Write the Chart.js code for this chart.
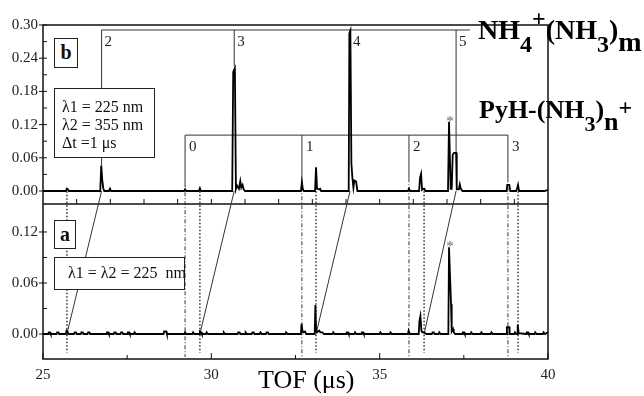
<!DOCTYPE html>
<html lang="en">
<head>
<meta charset="UTF-8">
<title>TOF spectra</title>
<script src="https://cdn.jsdelivr.net/npm/chart.js"></script>
<style>
  body { margin: 0; background: #fff; }
  #wrap { position: relative; width: 644px; height: 396px; font-family: "Liberation Serif", "DejaVu Serif", serif; color: #111; }
  #chart { position: absolute; left: 0; top: 0; }
  .box { position: absolute; box-sizing: border-box; border: 1.5px solid #222; background: #fff; }
  .tag { font-weight: bold; font-size: 20px; line-height: 26px; text-align: center; }
  .note { font-size: 16px; line-height: 18px; white-space: nowrap; }
  .chem { position: absolute; font-weight: bold; white-space: nowrap; line-height: 1; color: #000; }
  .chem span { position: relative; line-height: 0; }
  .xtitle { position: absolute; left: 258px; top: 367px; font-size: 26px; line-height: 1; color: #000; white-space: nowrap; }
</style>
</head>
<body>
<div id="wrap">
  <canvas id="chart" width="644" height="396"></canvas>

  <div class="box tag" style="left:54px; top:38px; width:24px; height:30px;">b</div>
  <div class="box note" style="left:54px; top:88px; width:101px; height:70px; padding:9px 0 0 7px;">
    λ1 = 225 nm<br>λ2 = 355 nm<br>Δt =1 μs
  </div>
  <div class="box tag" style="left:54px; top:220px; width:22px; height:29px;">a</div>
  <div class="box note" style="left:54px; top:257px; width:131px; height:33px; padding:6px 0 0 13px;">
    λ1 = λ2 = 225&nbsp; nm
  </div>

  <div class="chem" style="left:478px; top:16px; font-size:28px;">NH<span style="font-size:24px; top:13px;">4</span><span style="font-size:24px; top:-13px;">+</span>(NH<span style="font-size:24px; top:13px;">3</span>)<span style="top:12px;">m</span></div>
  <div class="chem" style="left:479px; top:97px; font-size:26px;">PyH-(NH<span style="font-size:22px; top:13px;">3</span>)<span style="top:12px;">n</span><span style="font-size:24px; top:-3px;">+</span></div>

  <div class="xtitle">TOF (μs)</div>
</div>

<script>
// Trace b: lambda1 = 225 nm, lambda2 = 355 nm, dt = 1 us  [TOF (us), signal]
const traceB = [
  [25.00, 0],
  [25.68, 0], [25.71, 0.004], [25.74, 0.003], [25.77, 0],
  [26.70, 0], [26.73, 0.046], [26.76, 0.02], [26.79, 0.005], [26.82, 0],
  [26.96, 0], [26.99, 0.004], [27.02, 0],
  [29.19, 0], [29.22, 0.003], [29.25, 0],
  [29.63, 0], [29.66, 0.005], [29.69, 0],
  [30.62, 0], [30.65, 0.215], [30.70, 0.222], [30.73, 0.004], [30.76, 0.01],
  [30.82, 0.004], [30.86, 0.018], [30.89, 0.006], [30.93, 0.011], [30.96, 0.003], [31.00, 0],
  [32.66, 0], [32.69, 0.016], [32.72, 0.003], [32.75, 0],
  [33.08, 0], [33.11, 0.043], [33.14, 0.004], [33.20, 0.003], [33.23, 0.004], [33.26, 0],
  [34.08, 0], [34.10, 0.285], [34.13, 0.29], [34.16, 0.05], [34.19, 0.024],
  [34.22, 0.006], [34.25, 0.019], [34.30, 0.017], [34.34, 0],
  [35.84, 0], [35.87, 0.004], [35.90, 0],
  [36.17, 0], [36.20, 0.024], [36.23, 0.031], [36.26, 0.002], [36.30, 0.004], [36.33, 0.004], [36.36, 0],
  [37.03, 0], [37.06, 0.125], [37.11, 0.004], [37.14, 0.004],
  [37.17, 0.066], [37.21, 0.069], [37.27, 0.069], [37.29, 0.003],
  [37.35, 0.003], [37.38, 0.012], [37.41, 0.004], [37.46, 0],
  [38.77, 0], [38.79, 0.011], [38.85, 0.011], [38.88, 0],
  [39.05, 0], [39.08, 0.004], [39.11, 0.011], [39.14, 0],
  [39.90, 0], [40.00, 0.002]
];

// Trace a: lambda1 = lambda2 = 225 nm
const traceA = [
  [25.00, 0],
  [25.15, 0], [25.17, 0.002], [25.21, 0.002], [25.23, 0],
  [25.40, 0], [25.42, 0.002], [25.46, 0.002], [25.48, 0],
  [25.68, 0], [25.70, 0.004], [25.73, 0.003], [25.75, 0],
  [25.92, 0], [25.94, 0.002], [25.98, 0.002], [26.00, 0],
  [26.12, 0], [26.14, 0.002], [26.18, 0.002], [26.20, 0],
  [26.32, 0], [26.34, 0.002], [26.38, 0.002], [26.40, 0],
  [26.88, 0], [26.90, 0.002], [26.94, 0.002], [26.96, 0],
  [27.10, 0], [27.12, 0.002], [27.16, 0.002], [27.18, 0],
  [27.30, 0], [27.32, 0.002], [27.36, 0.002], [27.38, 0],
  [27.50, 0], [27.52, 0.002], [27.56, 0.002], [27.58, 0],
  [27.70, 0], [27.72, 0.002], [27.76, 0],
  [28.58, 0], [28.60, 0.003], [28.66, 0.003], [28.68, 0],
  [29.20, 0], [29.22, 0.002], [29.25, 0],
  [29.44, 0], [29.46, 0.002], [29.50, 0],
  [29.64, 0], [29.66, 0.003], [29.70, 0.002], [29.72, 0],
  [29.84, 0], [29.86, 0.002], [29.90, 0],
  [30.35, 0], [30.37, 0.002], [30.41, 0],
  [30.78, 0], [30.80, 0.002], [30.84, 0.002], [30.86, 0],
  [31.00, 0], [31.02, 0.002], [31.06, 0],
  [31.20, 0], [31.22, 0.002], [31.26, 0.002], [31.28, 0],
  [31.44, 0], [31.46, 0.002], [31.50, 0],
  [31.62, 0], [31.64, 0.002], [31.68, 0.002], [31.70, 0],
  [32.20, 0], [32.22, 0.002], [32.26, 0],
  [32.66, 0], [32.68, 0.012], [32.71, 0.003], [32.74, 0.002], [32.78, 0.003], [32.82, 0],
  [33.07, 0], [33.09, 0.034], [33.11, 0.005], [33.14, 0.002], [33.20, 0.004], [33.24, 0.002], [33.30, 0.002], [33.34, 0],
  [33.60, 0], [33.62, 0.002], [33.66, 0],
  [34.00, 0], [34.02, 0.002], [34.06, 0.002], [34.08, 0],
  [34.25, 0], [34.27, 0.002], [34.31, 0],
  [34.45, 0], [34.47, 0.002], [34.51, 0.002], [34.53, 0],
  [35.00, 0], [35.02, 0.002], [35.06, 0],
  [35.30, 0], [35.32, 0.002], [35.36, 0],
  [35.84, 0], [35.86, 0.004], [35.90, 0],
  [36.16, 0], [36.18, 0.015], [36.21, 0.021], [36.24, 0.004], [36.27, 0.002], [36.32, 0.002], [36.38, 0],
  [36.55, 0], [36.57, 0.002], [36.61, 0.002], [36.63, 0],
  [36.75, 0], [36.77, 0.002], [36.81, 0],
  [37.04, 0], [37.06, 0.102], [37.12, 0.035], [37.14, 0.003], [37.18, 0.006], [37.20, 0.002], [37.24, 0],
  [37.45, 0], [37.47, 0.002], [37.51, 0.002], [37.53, 0],
  [37.70, 0], [37.72, 0.002], [37.76, 0],
  [38.00, 0], [38.02, 0.002], [38.06, 0],
  [38.30, 0], [38.32, 0.002], [38.36, 0],
  [38.77, 0], [38.78, 0.008], [38.85, 0.008], [38.86, 0],
  [39.00, 0], [39.02, 0.002], [39.06, 0],
  [39.09, 0], [39.10, 0.011], [39.13, 0.001],
  [39.35, 0], [39.37, 0.002], [39.41, 0.002], [39.43, 0],
  [39.60, 0], [39.62, 0.002], [39.66, 0],
  [39.85, 0], [39.87, 0.002], [39.91, 0],
  [40.00, 0.002]
];

// axis ticks
const xMajor = [25, 30, 35, 40];
const xMinor = [27.5, 32.5, 37.5];
const xInner = [26, 27, 28, 29, 30, 31, 32, 33, 34, 35, 36, 37, 38, 39];
const yMajorB = [0, 0.06, 0.12, 0.18, 0.24, 0.30];
const yMinorB = [0.03, 0.09, 0.15, 0.21, 0.27];
const yMajorA = [0, 0.06, 0.12];
const yMinorA = [0.03, 0.09];

// NH4+(NH3)m progression: m labels, TOF in panel b, peak tops, TOF in panel a
const nh4Labels = ['2', '3', '4', '5'];
const nh4TofB = [26.74, 30.68, 34.12, 37.27];
const nh4PeakB = [0.046, 0.225, 0.29, 0.069];
const nh4TofA = [25.71, 29.66, 33.11, 36.32, 39.11];

// PyH-(NH3)n+ progression
const pyLabels = ['0', '1', '2', '3'];
const pyTof = [29.22, 32.69, 35.87, 38.81];
const pyStop = [0.014, 0.023, 0.023, 0.023];

// starred peak (TOF, height in b, height in a)
const starTof = 37.06;
const starB = 0.125;
const starA = 0.102;

const serif = '"Liberation Serif", "DejaVu Serif", serif';

const annotate = {
  id: 'annotate',
  beforeDatasetsDraw(chart) {
    const { ctx, chartArea: a, scales } = chart;
    const x = scales.x, yB = scales.yB, yA = scales.yA;
    const px = v => x.getPixelForValue(v);
    ctx.save();
    ctx.strokeStyle = '#111';

    // frame + panel divider
    ctx.lineWidth = 1.5;
    ctx.strokeRect(a.left, a.top, a.right - a.left, a.bottom - a.top);
    ctx.beginPath();
    ctx.moveTo(a.left, yB.bottom);
    ctx.lineTo(a.right, yB.bottom);
    ctx.stroke();

    // tick marks
    ctx.lineWidth = 1;
    const hTick = (scale, vals, out, inn) => vals.forEach(v => {
      const py = scale.getPixelForValue(v);
      ctx.beginPath();
      ctx.moveTo(a.left - out, py);
      ctx.lineTo(a.left + inn, py);
      ctx.stroke();
    });
    hTick(yB, yMajorB, 4, 4);
    hTick(yB, yMinorB, 0, 4);
    hTick(yA, yMajorA, 4, 4);
    hTick(yA, yMinorA, 0, 4);
    const vTick = (vals, y0, len) => vals.forEach(v => {
      ctx.beginPath();
      ctx.moveTo(px(v), y0);
      ctx.lineTo(px(v), y0 - len);
      ctx.stroke();
    });
    vTick(xMajor, a.bottom, 6);
    vTick(xMinor, a.bottom, 4);
    vTick(xInner, yB.bottom, 5);

    // NH4+ bracket
    ctx.strokeStyle = '#333';
    const topY = yB.getPixelForValue(0.291);
    ctx.beginPath();
    ctx.moveTo(px(nh4TofB[0]), topY);
    ctx.lineTo(px(37.68), topY);
    nh4TofB.forEach((t, i) => {
      ctx.moveTo(px(t), topY);
      ctx.lineTo(px(t), yB.getPixelForValue(nh4PeakB[i]));
    });
    // links from panel b to panel a
    nh4TofB.forEach((t, i) => {
      ctx.moveTo(px(t), yB.getPixelForValue(0));
      ctx.lineTo(px(nh4TofA[i]), yA.getPixelForValue(0));
    });
    ctx.stroke();

    // PyH bracket
    const pyY = yB.getPixelForValue(0.101);
    ctx.beginPath();
    ctx.moveTo(px(pyTof[0]), pyY);
    ctx.lineTo(px(pyTof[pyTof.length - 1]), pyY);
    pyTof.forEach((t, i) => {
      ctx.moveTo(px(t), pyY);
      ctx.lineTo(px(t), yB.getPixelForValue(pyStop[i]));
    });
    ctx.stroke();

    // dash-dot guides for PyH
    ctx.setLineDash([4, 2, 1, 2]);
    ctx.beginPath();
    pyTof.forEach((t, i) => {
      ctx.moveTo(px(t), yB.getPixelForValue(pyStop[i]));
      ctx.lineTo(px(t), yA.getPixelForValue(-0.027));
    });
    ctx.stroke();

    // dotted guides for NH4+ in panel a
    ctx.setLineDash([1.5, 2]);
    ctx.lineWidth = 1.5;
    ctx.beginPath();
    nh4TofA.forEach(t => {
      ctx.moveTo(px(t), yB.getPixelForValue(0.006));
      ctx.lineTo(px(t), yA.getPixelForValue(-0.022));
    });
    ctx.stroke();
    ctx.setLineDash([]);

    // labels
    ctx.fillStyle = '#222';
    ctx.font = '15px ' + serif;
    ctx.textBaseline = 'middle';
    ctx.textAlign = 'left';
    nh4Labels.forEach((s, i) => ctx.fillText(s, px(nh4TofB[i]) + 3, topY + 12));
    pyLabels.forEach((s, i) => ctx.fillText(s, px(pyTof[i]) + 4, pyY + 12));

    ctx.fillStyle = '#666';
    ctx.font = '15px ' + serif;
    ctx.textAlign = 'center';
    ctx.textBaseline = 'alphabetic';
    ctx.fillText('*', px(starTof) + 1, yB.getPixelForValue(starB) + 4);
    ctx.fillText('*', px(starTof) + 1, yA.getPixelForValue(starA) + 4);
    ctx.restore();
  }
};

const tickFont = { family: serif, size: 15 };

new Chart(document.getElementById('chart'), {
  type: 'line',
  data: {
    datasets: [
      {
        label: 'b',
        data: traceB.map(p => ({ x: p[0], y: p[1] })),
        yAxisID: 'yB',
        borderColor: '#000',
        borderWidth: 1.8,
        pointRadius: 0,
        tension: 0
      },
      {
        label: 'a',
        data: traceA.map(p => ({ x: p[0], y: p[1] })),
        yAxisID: 'yA',
        borderColor: '#000',
        borderWidth: 1.8,
        pointRadius: 0,
        tension: 0
      }
    ]
  },
  options: {
    responsive: false,
    animation: false,
    layout: { padding: { top: 25, right: 96, left: 0, bottom: 0 } },
    plugins: { legend: { display: false }, tooltip: { enabled: false } },
    scales: {
      x: {
        type: 'linear',
        min: 25,
        max: 40,
        afterBuildTicks: s => { s.ticks = xMajor.map(v => ({ value: v })); },
        afterFit: s => { s.height = 37; },
        grid: { display: false, drawTicks: false },
        border: { display: false },
        ticks: { color: '#222', font: tickFont, padding: 7, maxRotation: 0, autoSkip: false, callback: v => String(v) }
      },
      // stacked panels: the axis listed first is placed at the bottom
      yA: {
        type: 'linear',
        position: 'left',
        stack: 'panels',
        stackWeight: 155,
        min: -0.0294,
        max: 0.1529,
        afterBuildTicks: s => { s.ticks = yMajorA.map(v => ({ value: v })); },
        afterFit: s => { s.width = 43; },
        grid: { display: false, drawTicks: false },
        border: { display: false },
        ticks: { color: '#222', font: tickFont, padding: 5, autoSkip: false, callback: v => v.toFixed(2) }
      },
      yB: {
        type: 'linear',
        position: 'left',
        stack: 'panels',
        stackWeight: 179,
        min: -0.0235,
        max: 0.30,
        afterBuildTicks: s => { s.ticks = yMajorB.map(v => ({ value: v })); },
        afterFit: s => { s.width = 43; },
        grid: { display: false, drawTicks: false },
        border: { display: false },
        ticks: { color: '#222', font: tickFont, padding: 5, autoSkip: false, callback: v => v.toFixed(2) }
      }
    }
  },
  plugins: [annotate]
});
</script>
</body>
</html>
